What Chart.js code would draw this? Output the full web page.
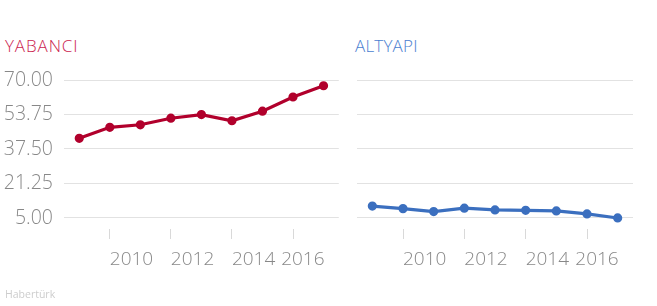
<!DOCTYPE html>
<html>
<head>
<meta charset="utf-8">
<script src="https://cdn.jsdelivr.net/npm/chart.js@4.4.1/dist/chart.umd.min.js"></script>
<style>
  html, body { margin: 0; padding: 0; background: #fff; }
  body { width: 657px; height: 306px; position: relative; overflow: hidden; font-family: "Open Sans", sans-serif; }
  .wrap { position: absolute; top: 0; height: 306px; }
  .title { position: absolute; top: 34px; font-size: 17px; font-weight: 300; }
  .src { position: absolute; left: 5px; top: 287px; font-size: 10.5px; color: #cdcdcd; }
</style>
</head>
<body>
<div class="title" style="left:5px;color:#cc2450;letter-spacing:0.9px;">YABANCI</div>
<div class="title" style="left:355px;color:#4a7ed0;letter-spacing:0.2px;">ALTYAPI</div>
<div class="wrap" style="left:0;width:345px;"><canvas id="c1" width="345" height="306"></canvas></div>
<div class="wrap" style="left:345px;width:312px;"><canvas id="c2" width="312" height="306"></canvas></div>
<div class="src">Habertürk</div>
<script>
const years = ['2009','2010','2011','2012','2013','2014','2015','2016','2017'];
const shownYears = ['2010','2012','2014','2016'];
const yTicks = [5, 21.25, 37.5, 53.75, 70];
const yabanci = [42.5, 47.7, 48.9, 52.0, 53.7, 50.8, 55.3, 62.0, 67.3];
const altyapi = [10.6, 9.4, 8.0, 9.6, 8.8, 8.6, 8.3, 6.9, 5.0];

const FONT = "'Open Sans', sans-serif";
const GRAY = '#888888';

// keep the last x label inside the plot: right-align it to the last category
function justifyLastLabel(scale) {
  const orig = scale._computeLabelItems;
  scale._computeLabelItems = function (ca) {
    const items = orig.call(this, ca);
    let lastIdx = -1;
    items.forEach((it, i) => { if (it.label !== '' && it.label != null) lastIdx = i; });
    if (lastIdx >= 0) {
      const it = items[lastIdx];
      const ctx = this.ctx;
      ctx.save();
      ctx.font = it.font.string;
      const w = ctx.measureText(it.label).width;
      ctx.restore();
      const limit = this.getPixelForValue(this.max) + 1;
      const x0 = it.options.translation[0];
      if (x0 + w > limit) {
        it.options.translation = [limit, it.options.translation[1]];
        it.options.textAlign = 'right';
      }
    }
    return items;
  };
}

function makeChart(id, data, color, showY, pad) {
  return new Chart(document.getElementById(id), {
    type: 'line',
    data: {
      labels: years,
      datasets: [{
        data: data,
        borderColor: color,
        backgroundColor: color,
        borderWidth: 3.2,
        pointRadius: 3,
        pointHoverRadius: 3,
        tension: 0,
        fill: false
      }]
    },
    options: {
      responsive: false,
      animation: false,
      events: [],
      layout: { padding: pad },
      plugins: { legend: { display: false }, tooltip: { enabled: false }, title: { display: false } },
      scales: {
        x: {
          type: 'category',
          offset: true,
          border: { display: false },
          grid: {
            drawOnChartArea: false,
            drawTicks: true,
            tickLength: 10,
            tickWidth: 1,
            tickColor: (c) => shownYears.includes(years[c.index]) ? '#d9d9d9' : 'rgba(0,0,0,0)',
            offset: false
          },
          ticks: {
            autoSkip: false,
            maxRotation: 0,
            align: 'start',
            padding: 9,
            color: GRAY,
            font: { family: FONT, size: 19, weight: 300 },
            callback: function (v, i) { return shownYears.includes(years[i]) ? years[i] : ''; }
          },
          afterFit: (s) => { s.height = 50; },
          afterUpdate: (s) => { if (!s._justified) { justifyLastLabel(s); s._justified = true; } }
        },
        y: {
          display: true,
          min: -0.2,
          max: 70,
          border: { display: false },
          grid: { color: '#e2e2e2', lineWidth: 1, drawTicks: false },
          afterBuildTicks: (s) => { s.ticks = yTicks.map(v => ({ value: v })); },
          ticks: {
            display: showY,
            padding: 11,
            color: GRAY,
            font: { family: FONT, size: 19.5, weight: 300 },
            callback: (v) => Number(v).toFixed(2)
          },
          afterFit: (s) => { s.width = showY ? 64 : 0; }
        }
      }
    }
  });
}

makeChart('c1', yabanci, '#b1002c', true, { top: 80, bottom: 27, left: 0, right: 5 });
makeChart('c2', altyapi, '#3b6fbf', false, { top: 80, bottom: 27, left: 12, right: 24 });
</script>
</body>
</html>
